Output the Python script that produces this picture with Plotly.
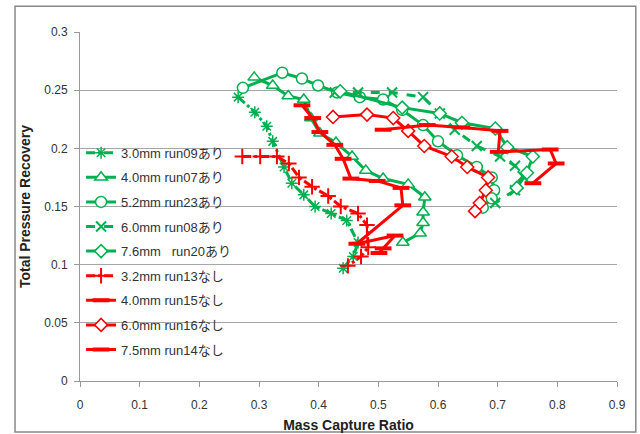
import plotly.graph_objects as go

# ---- data (Mass Capture Ratio, Total Pressure Recovery) ----
s1_name = "3.0mm run09あり"
s1_x = [0.265, 0.293, 0.313, 0.323, 0.342, 0.355, 0.375, 0.394, 0.421, 0.447, 0.466, 0.458, 0.441]
s1_y = [0.244, 0.231, 0.219, 0.206, 0.184, 0.170, 0.160, 0.150, 0.144, 0.138, 0.119, 0.107, 0.097]

s2_name = "4.0mm run07あり"
s2_x = [0.292, 0.323, 0.349, 0.375, 0.387, 0.402, 0.429, 0.456, 0.479, 0.508, 0.550, 0.578, 0.575, 0.575, 0.570, 0.541]
s2_y = [0.261, 0.254, 0.245, 0.242, 0.226, 0.213, 0.205, 0.193, 0.181, 0.174, 0.169, 0.158, 0.145, 0.136, 0.127, 0.119]

s3_name = "5.2mm run23あり"
s3_x = [0.273, 0.339, 0.372, 0.399, 0.431, 0.469, 0.508, 0.540, 0.575, 0.600, 0.632, 0.665, 0.690, 0.694, 0.690, 0.675]
s3_y = [0.252, 0.265, 0.260, 0.254, 0.248, 0.244, 0.242, 0.233, 0.220, 0.206, 0.194, 0.184, 0.175, 0.164, 0.157, 0.149]

s4_name = "6.0mm run08あり"
s4_x = [0.427, 0.466, 0.523, 0.575, 0.603, 0.628, 0.665, 0.704, 0.729, 0.742, 0.729, 0.696]
s4_y = [0.248, 0.248, 0.248, 0.244, 0.230, 0.216, 0.202, 0.193, 0.185, 0.176, 0.164, 0.153]

s5_name = "7.6mm\u00a0\u00a0 run20あり"
s5_x = [0.436, 0.540, 0.603, 0.640, 0.696, 0.716, 0.759, 0.749, 0.732]
s5_y = [0.249, 0.235, 0.230, 0.222, 0.217, 0.201, 0.193, 0.179, 0.166]

s6_name = "3.2mm run13なし"
s6_x = [0.272, 0.302, 0.330, 0.350, 0.367, 0.389, 0.416, 0.437, 0.466, 0.481, 0.483, 0.471, 0.449]
s6_y = [0.193, 0.193, 0.193, 0.187, 0.175, 0.167, 0.159, 0.150, 0.144, 0.134, 0.115, 0.107, 0.099]

s7_name = "4.0mm run15なし"
s7_x = [0.372, 0.390, 0.402, 0.427, 0.441, 0.454, 0.498, 0.538, 0.541, 0.464, 0.528, 0.508, 0.501]
s7_y = [0.237, 0.226, 0.214, 0.203, 0.191, 0.174, 0.172, 0.166, 0.151, 0.118, 0.125, 0.114, 0.110]

s8_name = "6.0mm run16なし"
s8_x = [0.424, 0.481, 0.525, 0.550, 0.577, 0.623, 0.649, 0.684, 0.680, 0.670, 0.662]
s8_y = [0.227, 0.229, 0.226, 0.215, 0.202, 0.193, 0.184, 0.175, 0.164, 0.153, 0.146]

s9_name = "7.5mm run14なし"
s9_x = [0.508, 0.582, 0.640, 0.704, 0.701, 0.788, 0.798, 0.759]
s9_y = [0.216, 0.220, 0.218, 0.215, 0.197, 0.199, 0.187, 0.170]

x_ticks = [0, 0.1, 0.2, 0.3, 0.4, 0.5, 0.6, 0.7, 0.8, 0.9]
y_ticks = [0, 0.05, 0.1, 0.15, 0.2, 0.25, 0.3]

GREEN = "#00B050"
RED = "#FF0000"
FONT = "Liberation Sans, Noto Sans CJK JP"

fig = go.Figure()

def add(name, xs, ys, color, dash, symbol, size, mfill, mlw, lw=3):
    fig.add_trace(go.Scatter(
        x=xs, y=ys, name=name, mode="lines+markers", legendgroup=name,
        line=dict(color=color, width=lw, dash=dash),
        marker=dict(symbol=symbol, size=size, color=mfill,
                    line=dict(color=color, width=mlw)),
    ))

add(s1_name, s1_x, s1_y, GREEN, "dashdot", "asterisk", 10, GREEN, 1.5)
add(s2_name, s2_x, s2_y, GREEN, "solid", "triangle-up", 11, "white", 1.5)
add(s3_name, s3_x, s3_y, GREEN, "solid", "circle", 11, "white", 1.5)
add(s4_name, s4_x, s4_y, GREEN, "dash", "x-thin", 10, GREEN, 2)
add(s5_name, s5_x, s5_y, GREEN, "solid", "diamond", 10, "white", 1.5)
add(s6_name, s6_x, s6_y, RED, "dashdot", "cross-thin", 11, RED, 2)
add(s7_name, s7_x, s7_y, RED, "solid", "line-ew", 12, RED, 4)
add(s8_name, s8_x, s8_y, RED, "solid", "diamond", 10, "white", 1.5)
add(s9_name, s9_x, s9_y, RED, "solid", "line-ew", 12, RED, 4)

fig.update_layout(
    width=640, height=434,
    margin=dict(l=80, r=23, t=32, b=53),
    paper_bgcolor="white", plot_bgcolor="white",
    font=dict(family=FONT, size=12, color="#333333"),
    showlegend=True,
    legend=dict(x=0.002, y=0.697, xanchor="left", yanchor="top",
                bgcolor="rgba(0,0,0,0)", font=dict(family=FONT, size=13, color="#333333"),
                tracegroupgap=4.7, itemwidth=30),
    xaxis=dict(range=[0, 0.9], tickvals=x_ticks, ticktext=[f"{v:g}" for v in x_ticks],
               showgrid=False, showline=True, linecolor="#999999", linewidth=1,
               ticks="outside", ticklen=5, tickcolor="#999999", zeroline=False,
               ticklabelstandoff=8, automargin=False,
               title=dict(text="<b>Mass Capture Ratio</b>", font=dict(size=14, color="#222222"), standoff=8)),
    yaxis=dict(range=[0, 0.3], tickvals=y_ticks, ticktext=[f"{v:g}" for v in y_ticks],
               showgrid=True, gridcolor="#A6A6A6", gridwidth=1,
               showline=True, linecolor="#999999", linewidth=1,
               ticks="outside", ticklen=5, tickcolor="#999999", zeroline=False,
               ticklabelstandoff=4, automargin=False,
               title=dict(text="<b>Total Pressure Recovery</b>", font=dict(size=14, color="#222222"), standoff=10)),
    shapes=[dict(type="rect", xref="paper", yref="paper",
                 x0=-0.121, x1=1.035, y0=-0.146, y1=1.074,
                 line=dict(color="#888888", width=1.5), fillcolor="rgba(0,0,0,0)", layer="below")],
)

fig.write_html("out.html", config={"displayModeBar": False},
               post_script="document.body.style.margin='0';")
